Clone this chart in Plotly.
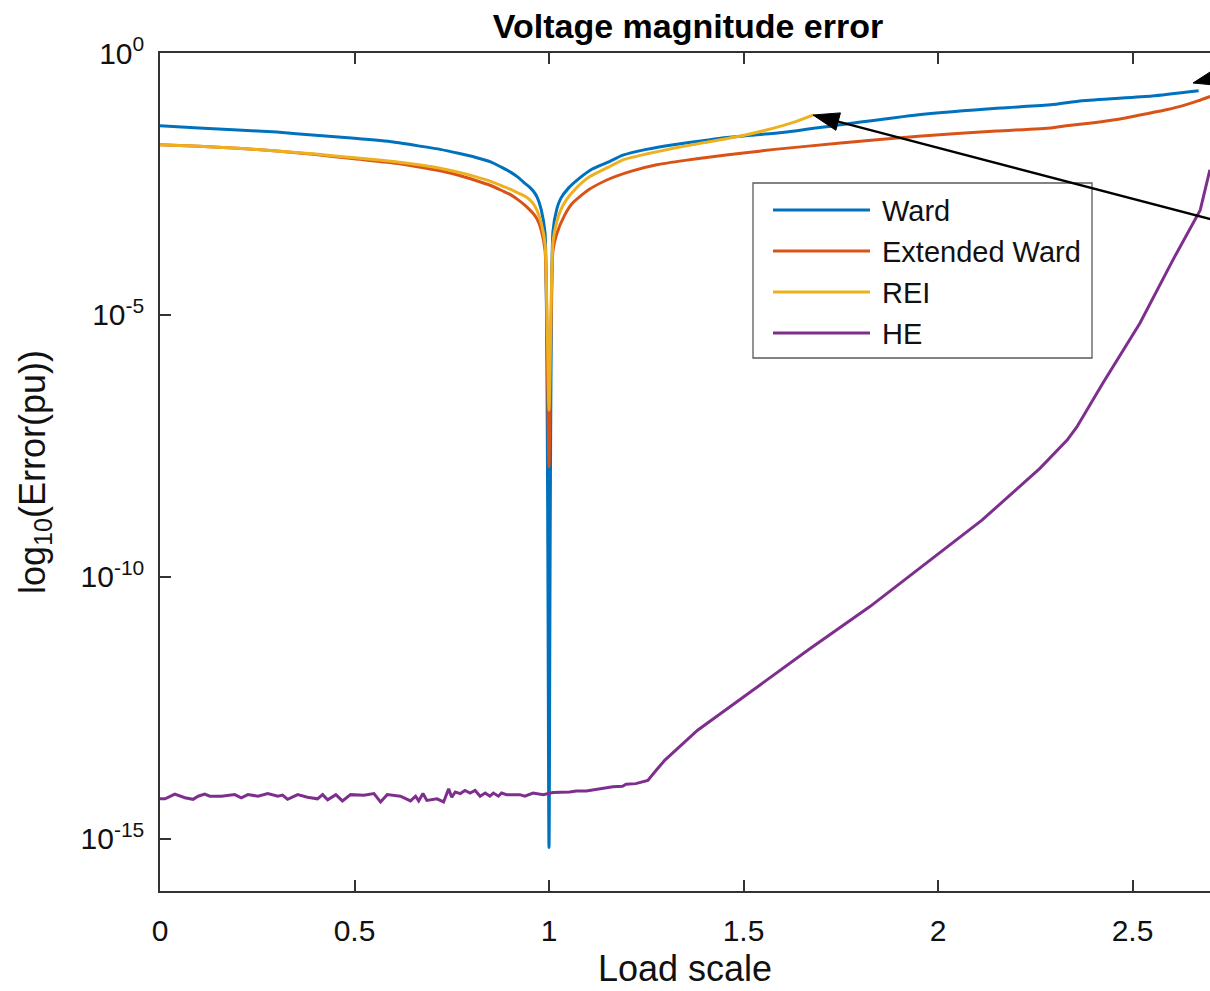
import math
import plotly.graph_objects as go

# ---------------- data (log10 of error) ----------------
ward_x = [0.00, 0.10, 0.20, 0.30, 0.40, 0.50, 0.60, 0.67, 0.72, 0.77, 0.81, 0.85, 0.88, 0.90, 0.92, 0.94, 0.95,
          0.96, 0.97, 0.98, 0.99, 1.00, 1.01, 1.02, 1.03, 1.05, 1.08, 1.11, 1.15, 1.19, 1.25, 1.32, 1.40, 1.45,
          1.52, 1.60, 1.75, 1.95, 2.16, 2.29, 2.37, 2.55, 2.67]
ward_log = [-1.39, -1.43, -1.47, -1.51, -1.57, -1.63, -1.70, -1.78, -1.84, -1.92, -1.99, -2.08, -2.19, -2.27,
            -2.37, -2.50, -2.56, -2.64, -2.76, -2.99, -3.45, -15.17, -3.42, -2.98, -2.78, -2.58, -2.38, -2.22,
            -2.09, -1.95, -1.84, -1.75, -1.67, -1.62, -1.57, -1.52, -1.37, -1.18, -1.05, -0.99, -0.91, -0.82, -0.72]

ext_x = [0.00, 0.10, 0.20, 0.30, 0.40, 0.50, 0.60, 0.67, 0.72, 0.77, 0.81, 0.85, 0.88, 0.90, 0.92, 0.94, 0.95,
         0.96, 0.97, 0.98, 0.99, 1.00, 1.01, 1.02, 1.04, 1.06, 1.10, 1.15, 1.21, 1.28, 1.35, 1.41, 1.50, 1.58,
         1.75, 1.95, 2.15, 2.29, 2.33, 2.40, 2.46, 2.53, 2.59, 2.64, 2.67, 2.70]
ext_log = [-1.75, -1.78, -1.82, -1.87, -1.94, -2.02, -2.10, -2.18, -2.25, -2.34, -2.43, -2.53, -2.63, -2.70,
           -2.80, -2.92, -2.99, -3.07, -3.18, -3.38, -3.78, -7.90, -3.78, -3.45, -3.10, -2.87, -2.62, -2.42,
           -2.26, -2.13, -2.05, -1.99, -1.91, -1.84, -1.72, -1.59, -1.49, -1.43, -1.39, -1.33, -1.27, -1.17,
           -1.08, -0.98, -0.91, -0.83]

rei_x = [0.00, 0.10, 0.20, 0.30, 0.40, 0.50, 0.60, 0.67, 0.72, 0.77, 0.81, 0.85, 0.88, 0.90, 0.92, 0.94, 0.95,
         0.96, 0.97, 0.98, 0.99, 1.00, 1.01, 1.02, 1.03, 1.045, 1.07, 1.105, 1.15, 1.19, 1.25, 1.32, 1.40, 1.49,
         1.58, 1.63, 1.68]
rei_log = [-1.75, -1.78, -1.82, -1.87, -1.93, -2.00, -2.07, -2.14, -2.20, -2.28, -2.36, -2.45, -2.54, -2.60,
           -2.67, -2.74, -2.80, -2.88, -3.02, -3.25, -3.65, -6.82, -3.62, -3.22, -3.00, -2.80, -2.58, -2.36,
           -2.19, -2.04, -1.93, -1.82, -1.71, -1.59, -1.43, -1.32, -1.18]

he_x = [0.000, 0.013, 0.038, 0.064, 0.085, 0.098, 0.115, 0.128, 0.158, 0.192, 0.209, 0.226, 0.252, 0.277, 0.303,
        0.315, 0.328, 0.354, 0.379, 0.405, 0.418, 0.431, 0.452, 0.469, 0.490, 0.524, 0.550, 0.567, 0.584, 0.618,
        0.644, 0.657, 0.665, 0.676, 0.686, 0.712, 0.729, 0.742, 0.750, 0.759, 0.772, 0.784, 0.797, 0.810, 0.823,
        0.836, 0.848, 0.857, 0.870, 0.878, 0.891, 0.925, 0.938, 0.959, 0.985, 1.010, 1.053, 1.070, 1.096, 1.130,
        1.164, 1.189, 1.198, 1.223, 1.241, 1.254, 1.275, 1.298, 1.382, 1.488, 1.666, 1.825, 1.979, 2.113, 2.262,
        2.332, 2.357, 2.424, 2.519, 2.604, 2.674, 2.699]
he_log = [-14.24, -14.24, -14.15, -14.22, -14.25, -14.19, -14.15, -14.19, -14.19, -14.16, -14.22, -14.16, -14.19,
          -14.14, -14.19, -14.17, -14.25, -14.16, -14.21, -14.24, -14.16, -14.26, -14.16, -14.28, -14.16, -14.17,
          -14.14, -14.30, -14.16, -14.19, -14.28, -14.19, -14.28, -14.14, -14.27, -14.24, -14.30, -14.05, -14.21,
          -14.11, -14.14, -14.08, -14.13, -14.08, -14.19, -14.13, -14.19, -14.13, -14.19, -14.13, -14.16, -14.16,
          -14.19, -14.13, -14.16, -14.12, -14.11, -14.09, -14.09, -14.05, -14.01, -14.00, -13.96, -13.95, -13.92,
          -13.89, -13.70, -13.50, -12.93, -12.36, -11.40, -10.57, -9.68, -8.92, -7.93, -7.39, -7.14, -6.30,
          -5.16, -3.95, -3.00, -2.23]

series_names = ["Ward", "Extended Ward", "REI", "HE"]
series_colors = ["#0072BD", "#D95319", "#EDB120", "#7E2F8E"]
series_shapes = ["spline", "spline", "spline", "linear"]

x_ticks = [0, 0.5, 1, 1.5, 2, 2.5]
y_tick_exps = [0, -5, -10, -15]
y_tick_text = ["10<sup>0</sup>", "10<sup>-5</sup>", "10<sup>-10</sup>", "10<sup>-15</sup>"]

# ---------------- layout geometry (pixels) ----------------
W, H = 1210, 991
L, R, T, B = 160, 1210, 53, 891
FONT = "Liberation Sans, Arial, sans-serif"
AX = "#333333"
TXT = "#111111"


def px_x(p):
    return (p - L) / (R - L)


def px_y(p):
    return (B - p) / (B - T)


fig = go.Figure()
for xs, ls, name, col, shp in zip([ward_x, ext_x, rei_x, he_x], [ward_log, ext_log, rei_log, he_log],
                                  series_names, series_colors, series_shapes):
    line = dict(color=col, width=3, shape=shp)
    if shp == "spline":
        line["smoothing"] = 0.5
    fig.add_trace(go.Scatter(x=xs, y=[10 ** v for v in ls], mode="lines", name=name,
                             line=line, showlegend=False))

shapes = []
annotations = []

# manual legend (MATLAB style, long line samples)
shapes.append(dict(type="rect", xref="paper", yref="paper", x0=px_x(753), x1=px_x(1092), y0=px_y(358),
                   y1=px_y(183), line=dict(color="#5a5a5a", width=1.3), fillcolor="white", layer="above"))
for i, (name, col) in enumerate(zip(series_names, series_colors)):
    yy = 210 + 41 * i
    shapes.append(dict(type="line", xref="paper", yref="paper", x0=px_x(773), x1=px_x(870), y0=px_y(yy),
                       y1=px_y(yy), line=dict(color=col, width=3), layer="above"))
    annotations.append(dict(text=name, xref="paper", yref="paper", x=px_x(880), y=px_y(yy + 1), xanchor="left",
                            yanchor="middle", showarrow=False, font=dict(family=FONT, size=29, color=TXT)))

# right-side (mirrored) tick stubs; the right axis line itself lies just outside the picture
for e in [-5, -10, -15]:
    shapes.append(dict(type="line", xref="paper", yref="y", x0=px_x(1206), x1=1.0, y0=e, y1=e,
                       line=dict(color=AX, width=1.5)))


# arrows drawn as a line plus a filled triangular head (pixel geometry -> paper coords)
def arrow(tip, tail, head_len=26, half_w=9, width=2.3):
    tx, ty = tip
    dx, dy = tail[0] - tx, tail[1] - ty
    n = math.hypot(dx, dy)
    ux, uy = dx / n, dy / n
    bx, by = tx + head_len * ux, ty + head_len * uy
    nx, ny = -uy, ux
    p1 = (bx + half_w * nx, by + half_w * ny)
    p2 = (bx - half_w * nx, by - half_w * ny)
    out = [dict(type="line", xref="paper", yref="paper", x0=px_x(bx - 2 * ux), y0=px_y(by - 2 * uy),
                x1=px_x(tail[0]), y1=px_y(tail[1]), line=dict(color="black", width=width), layer="above")]
    path = "M {:.5f},{:.5f} L {:.5f},{:.5f} L {:.5f},{:.5f} Z".format(
        px_x(tx), px_y(ty), px_x(p1[0]), px_y(p1[1]), px_x(p2[0]), px_y(p2[1]))
    out.append(dict(type="path", xref="paper", yref="paper", path=path, fillcolor="black",
                    line=dict(color="black", width=1), layer="above"))
    return out


shapes += arrow((813, 115), (1250, 229.5))
shapes += arrow((1193, 83), (1300, 57))

fig.update_layout(
    width=W, height=H,
    margin=dict(l=L, r=W - R, t=T, b=H - B, pad=0),
    paper_bgcolor="white", plot_bgcolor="white",
    font=dict(family=FONT, color=TXT),
    title=dict(text="<b>Voltage magnitude error</b>", x=px_x(688), xref="paper", xanchor="center",
               y=1 - 26 / H, yref="container", yanchor="middle", font=dict(family=FONT, size=34, color="black")),
    xaxis=dict(range=[0, (R - L) / 389.0], showline=True, linecolor=AX, linewidth=1.5, mirror="ticks",
               ticks="inside", ticklen=11, tickwidth=1.5, tickcolor=AX, showgrid=False, zeroline=False,
               tickvals=x_ticks, tickfont=dict(size=30, color=TXT), ticklabelstandoff=12,
               title=dict(text="Load scale", font=dict(size=36, color=TXT), standoff=10)),
    yaxis=dict(type="log", range=[-16, 0], showline=True, linecolor=AX, linewidth=1.5, ticks="inside",
               ticklen=11, tickwidth=1.5, tickcolor=AX, showgrid=False, zeroline=False,
               tickvals=[10 ** e for e in y_tick_exps], ticktext=y_tick_text,
               tickfont=dict(size=30, color=TXT), ticklabelstandoff=8,
               title=dict(text="log<sub>10</sub>(Error(pu))", font=dict(size=36, color=TXT), standoff=24)),
    shapes=shapes,
    annotations=annotations,
)

fig.write_html("out.html", config={"displayModeBar": False},
               post_script="document.body.style.margin='0';document.body.style.overflow='hidden';")
